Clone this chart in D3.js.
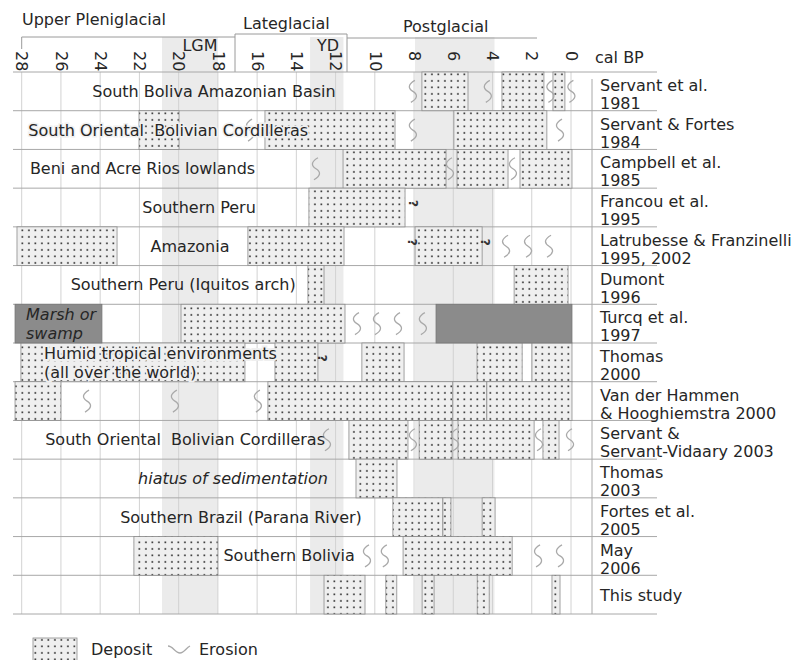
<!DOCTYPE html>
<html>
<head>
<meta charset="utf-8">
<script src="https://cdn.jsdelivr.net/npm/d3@7"></script>
<style>
  body { margin: 0; background: #fff; }
  svg { font-family: "DejaVu Sans", Verdana, sans-serif; }
</style>
</head>
<body>
<script>
// tick labels (cal BP, ka)
var ticks = [28, 26, 24, 22, 20, 18, 16, 14, 12, 10, 8, 6, 4, 2, 0];

// references on the right, one per row
var refAuthors = ["Servant et al.", "Servant & Fortes", "Campbell et al.", "Francou et al.",
                  "Latrubesse & Franzinelli", "Dumont", "Turcq et al.", "Thomas",
                  "Van der Hammen", "Servant &", "Thomas", "Fortes et al.", "May", "This study"];
var refYears = ["1981", "1984", "1985", "1995", "1995, 2002", "1996", "1997", "2000",
                "& Hooghiemstra 2000", "Servant-Vidaary 2003", "2003", "2005", "2006", ""];

// shaded periods [label, from ka, to ka]
var periods = [["LGM", 20.85, 18.0], ["YD", 13.3, 11.6], ["", 7.95, 3.9]];

// region names [row, text, ka, italic]
var regions = [
  [0, "South Boliva Amazonian Basin", 18.2, false],
  [1, "South Oriental  Bolivian Cordilleras", 20.53, false],
  [2, "Beni and Acre Rios lowlands", 21.84, false],
  [3, "Southern Peru", 18.96, false],
  [4, "Amazonia", 19.42, false],
  [5, "Southern Peru (Iquitos arch)", 19.77, false],
  [9, "South Oriental  Bolivian Cordilleras", 19.67, false],
  [10, "hiatus of sedimentation", 17.23, true],
  [11, "Southern Brazil (Parana River)", 16.82, false],
  [12, "Southern Bolivia", 14.37, false]
];
// two-line notes, left aligned [row, line1, line2, ka, italic]
var notes = [
  [6, "Marsh or", "swamp", 27.78, true],
  [7, "Humid tropical environments", "(all over the world)", 26.86, false]
];

// deposits [row, from ka, to ka]
var deposits = [
  [0, 7.6, 5.25], [0, 3.52, 1.38], [0, 0.92, 0.31],
  [1, 22.02, 19.98], [1, 15.6, 8.97], [1, 5.97, 1.23],
  [2, 11.62, 6.37], [2, 5.81, 3.21], [2, 2.6, -0.05],
  [3, 13.36, 8.46],
  [4, 28.24, 23.14], [4, 16.47, 11.57], [4, 7.95, 4.53],
  [5, 13.41, 12.59], [5, 2.9, 0.15],
  [6, 19.88, 11.52],
  [7, 28.04, 16.62], [7, 15.09, 12.9], [7, 10.66, 8.51], [7, 4.79, 2.49], [7, 1.99, -0.05],
  [8, 28.34, 26.0], [8, 15.45, 6.02], [8, 6.02, 4.29], [8, 4.29, -0.05],
  [9, 11.32, 8.31], [9, 7.74, 6.06], [9, 5.76, 1.88], [9, 1.43, 0.61],
  [10, 10.96, 8.87],
  [11, 9.08, 6.53], [11, 6.53, 6.12], [11, 4.53, 3.87],
  [12, 22.28, 18.0], [12, 8.56, 3.0],
  [13, 12.59, 10.5], [13, 9.44, 8.88], [13, 7.59, 6.98], [13, 4.78, 4.17], [13, 0.97, 0.56]
];

// marsh / swamp [row, from ka, to ka]
var swamps = [[6, 28.34, 23.91], [6, 6.88, -0.05]];

// erosion marks [row, ka]
var erosions = [
  [0, 8.06], [0, 4.24], [0, 1.05], [0, -0.02],
  [1, 16.36], [1, 8.06], [1, 0.56],
  [2, 13.0], [2, 6.17], [2, 2.96],
  [4, 3.31], [4, 2.19], [4, 1.12],
  [6, 10.91], [6, 9.89], [6, 8.82], [6, 7.55],
  [8, 24.67], [8, 20.19], [8, 15.96],
  [9, 12.44], [9, 8.06], [9, 5.91], [9, 1.63], [9, 0.05],
  [12, 10.4], [12, 9.49], [12, 1.68], [12, 0.56]
];

// uncertain limits "?" [row, ka]
var uncertain = [[3, 8.06], [4, 8.1], [4, 4.38], [7, 12.69]];

var width = 793, height = 660;
var textCol = "#262626";

var svg = d3.select("body").append("svg")
    .attr("width", width)
    .attr("height", height);

var x = d3.scaleLinear().domain([28, 0]).range([21.7, 571]);
var y = d3.scaleBand().domain(d3.range(refAuthors.length)).range([72, 614]);

// dotted fill for deposits
var defs = svg.append("defs");
var pat = defs.append("pattern")
    .attr("id", "dots")
    .attr("patternUnits", "userSpaceOnUse")
    .attr("width", 6.5)
    .attr("height", 6.5);
pat.append("rect").attr("width", 6.5).attr("height", 6.5).attr("fill", "#efefef");
pat.append("rect").attr("x", 2.1).attr("y", 2.1).attr("width", 1.6).attr("height", 1.6).attr("fill", "#222");

//////////////////////////// shaded periods ////////////////////////////
svg.selectAll("rect.period")
    .data(periods)
    .enter()
    .append("rect")
    .attr("x", function(d) { return x(d[1]); })
    .attr("y", 37)
    .attr("width", function(d) { return x(d[2]) - x(d[1]); })
    .attr("height", 614 - 37)
    .attr("fill", "#ebebeb");

// grid lines at every tick
svg.selectAll("line.grid")
    .data(ticks)
    .enter()
    .append("line")
    .attr("x1", function(d) { return x(d); })
    .attr("x2", function(d) { return x(d); })
    .attr("y1", 72)
    .attr("y2", 614)
    .attr("stroke", "#d2d2d2")
    .attr("stroke-width", 1);

//////////////////////////// header ////////////////////////////
var head = svg.append("g")
    .attr("fill", "none")
    .attr("stroke", "#9a9a9a")
    .attr("stroke-width", 1);
head.append("path").attr("d", "M" + x(28) + ",49V37H235");
head.append("path").attr("d", "M235,72V34H347V72");
head.append("path").attr("d", "M347,38H537");

svg.append("text").attr("x", 22).attr("y", 25).text("Upper Pleniglacial")
    .attr("font-size", 16).attr("fill", textCol);
svg.append("text").attr("x", 243).attr("y", 29).text("Lateglacial")
    .attr("font-size", 16).attr("fill", textCol);
svg.append("text").attr("x", 403).attr("y", 32).text("Postglacial")
    .attr("font-size", 16).attr("fill", textCol);
svg.append("text").attr("x", 595).attr("y", 63).text("cal BP")
    .attr("font-size", 16).attr("fill", textCol);

svg.selectAll("text.period")
    .data(periods.filter(function(d) { return d[0] != ""; }))
    .enter()
    .append("text")
    .attr("x", function(d) { return d[0] == "LGM" ? 200 : 328; })
    .attr("y", 51)
    .attr("text-anchor", "middle")
    .attr("font-size", 16)
    .attr("fill", textCol)
    .text(function(d) { return d[0]; });

// axis with rotated tick labels
var axis = svg.append("g")
    .attr("transform", "translate(0,72)")
    .call(d3.axisTop(x).tickValues(ticks).tickSize(0).tickFormat(d3.format("d")));
axis.select(".domain").remove();
axis.selectAll("text")
    .attr("transform", "rotate(90)")
    .attr("x", -21)
    .attr("y", 0)
    .attr("dy", "0.36em")
    .attr("text-anchor", "start")
    .attr("font-size", 16)
    .attr("font-family", "DejaVu Sans, Verdana, sans-serif")
    .attr("fill", textCol);

//////////////////////////// rows ////////////////////////////
// axis line + row lines
svg.selectAll("line.row")
    .data(d3.range(refAuthors.length + 1))
    .enter()
    .append("line")
    .attr("x1", 13)
    .attr("x2", 657)
    .attr("y1", function(d) { return d < refAuthors.length ? y(d) : y.range()[1]; })
    .attr("y2", function(d) { return d < refAuthors.length ? y(d) : y.range()[1]; })
    .attr("stroke", "#a8a8a8")
    .attr("stroke-width", 1);

svg.append("line")
    .attr("x1", 592).attr("x2", 592)
    .attr("y1", 79).attr("y2", 614)
    .attr("stroke", "#a8a8a8");

// deposits
svg.selectAll("rect.deposit")
    .data(deposits)
    .enter()
    .append("rect")
    .attr("x", function(d) { return x(d[1]); })
    .attr("y", function(d) { return y(d[0]); })
    .attr("width", function(d) { return x(d[2]) - x(d[1]); })
    .attr("height", y.bandwidth())
    .attr("fill", "url(#dots)")
    .attr("stroke", "#8c8c8c")
    .attr("stroke-width", 0.8);

// marsh or swamp
svg.selectAll("rect.swamp")
    .data(swamps)
    .enter()
    .append("rect")
    .attr("x", function(d) { return x(d[1]); })
    .attr("y", function(d) { return y(d[0]); })
    .attr("width", function(d) { return x(d[2]) - x(d[1]); })
    .attr("height", y.bandwidth())
    .attr("fill", "#8b8b8b")
    .attr("stroke", "#777")
    .attr("stroke-width", 0.8);

// erosion squiggles
var squiggle = "M2,-11C-5,-7 -5,-3 0,0C5,3 5,7 -2,11";
svg.selectAll("path.erosion")
    .data(erosions)
    .enter()
    .append("path")
    .attr("d", squiggle)
    .attr("transform", function(d) {
      return "translate(" + x(d[1]) + "," + (y(d[0]) + y.bandwidth() / 2) + ")";
    })
    .attr("fill", "none")
    .attr("stroke", "#a9a9a9")
    .attr("stroke-width", 1.3);

// "?" marks
svg.selectAll("text.unsure")
    .data(uncertain)
    .enter()
    .append("text")
    .attr("transform", function(d) {
      return "translate(" + x(d[1]) + "," + (y(d[0]) + y.bandwidth() / 2 - 4) + ") rotate(90)";
    })
    .attr("text-anchor", "middle")
    .attr("dy", "0.35em")
    .attr("font-size", 12)
    .attr("font-weight", "bold")
    .attr("fill", "#333")
    .text("?");

// region names
svg.selectAll("text.region")
    .data(regions)
    .enter()
    .append("text")
    .attr("x", function(d) { return x(d[2]); })
    .attr("y", function(d) { return y(d[0]) + y.bandwidth() / 2 + 5.5; })
    .attr("text-anchor", "middle")
    .attr("font-size", 16)
    .attr("font-style", function(d) { return d[3] ? "italic" : "normal"; })
    .style("white-space", "pre")
    .attr("fill", textCol)
    .attr("stroke", function(d) { return d[0] == 1 ? "#f0f0f0" : "none"; })
    .attr("stroke-width", 3)
    .attr("paint-order", "stroke")
    .text(function(d) { return d[1]; });

var noteText = svg.selectAll("text.note")
    .data(notes)
    .enter()
    .append("text")
    .attr("font-size", 16)
    .attr("font-style", function(d) { return d[4] ? "italic" : "normal"; })
    .attr("fill", textCol)
    .attr("stroke", function(d) { return d[4] ? "none" : "#efefef"; })
    .attr("stroke-width", 4)
    .attr("paint-order", "stroke");
noteText.append("tspan")
    .attr("x", function(d) { return x(d[3]); })
    .attr("y", function(d) { return y(d[0]) + 16; })
    .text(function(d) { return d[1]; });
noteText.append("tspan")
    .attr("x", function(d) { return x(d[3]); })
    .attr("y", function(d) { return y(d[0]) + 35; })
    .text(function(d) { return d[2]; });

// references
var refs = svg.selectAll("text.ref")
    .data(refAuthors)
    .enter()
    .append("text")
    .attr("font-size", 16)
    .attr("fill", textCol);
refs.append("tspan")
    .attr("x", 600)
    .attr("y", function(d, i) { return refYears[i] == "" ? y(i) + y.bandwidth() / 2 + 6 : y(i) + 19; })
    .text(function(d) { return d; });
refs.append("tspan")
    .attr("x", 600)
    .attr("y", function(d, i) { return y(i) + 37; })
    .text(function(d, i) { return refYears[i]; });

//////////////////////////// legend ////////////////////////////
svg.append("rect")
    .attr("x", 33).attr("y", 638)
    .attr("width", 44).attr("height", 26)
    .attr("fill", "url(#dots)")
    .attr("stroke", "#8c8c8c")
    .attr("stroke-width", 0.8);
svg.append("text").attr("x", 91).attr("y", 655).text("Deposit")
    .attr("font-size", 16).attr("fill", textCol);
svg.append("path")
    .attr("d", "M168,646C173,646 175,653 180,653C184,653 186,648 190,646")
    .attr("fill", "none")
    .attr("stroke", "#a9a9a9")
    .attr("stroke-width", 1.3);
svg.append("text").attr("x", 199).attr("y", 655).text("Erosion")
    .attr("font-size", 16).attr("fill", textCol);
</script>
</body>
</html>
